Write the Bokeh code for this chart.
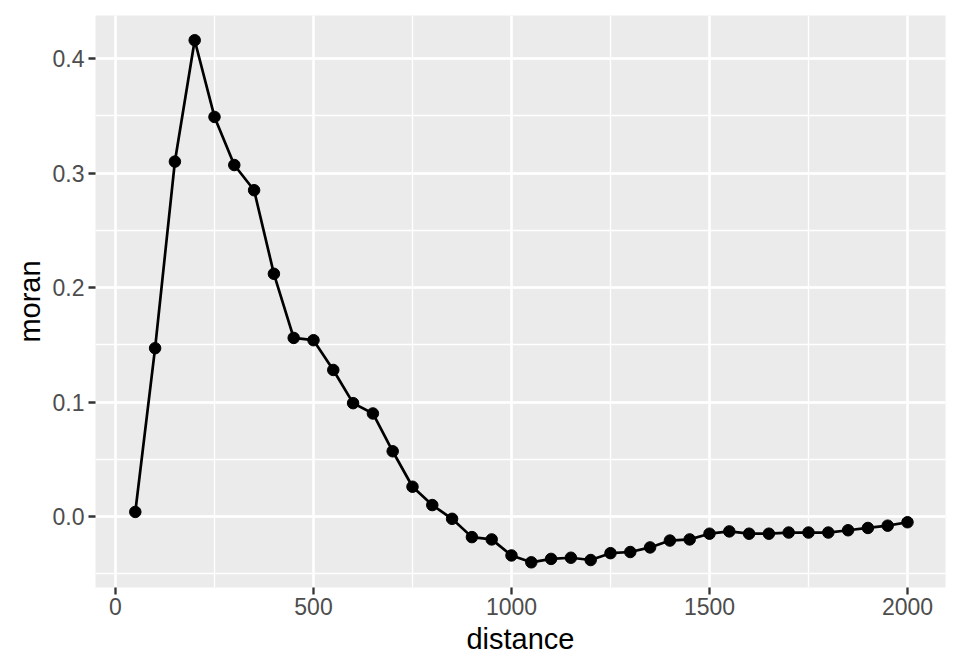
from bokeh.plotting import figure
from bokeh.models import Range1d, SingleIntervalTicker, NumeralTickFormatter, ColumnDataSource
from bokeh.embed import file_html
from bokeh.resources import INLINE

distance = [50, 100, 150, 200, 250, 300, 350, 400, 450, 500, 550, 600, 650, 700, 750,
            800, 850, 900, 950, 1000, 1050, 1100, 1150, 1200, 1250, 1300, 1350, 1400,
            1450, 1500, 1550, 1600, 1650, 1700, 1750, 1800, 1850, 1900, 1950, 2000]
moran = [0.004, 0.147, 0.310, 0.416, 0.349, 0.307, 0.285, 0.212, 0.156, 0.154, 0.128,
         0.099, 0.090, 0.057, 0.026, 0.010, -0.002, -0.018, -0.020, -0.034, -0.040,
         -0.037, -0.036, -0.038, -0.032, -0.031, -0.027, -0.021, -0.020, -0.015,
         -0.013, -0.015, -0.015, -0.014, -0.014, -0.014, -0.012, -0.010, -0.008, -0.005]

src = ColumnDataSource(data=dict(distance=distance, moran=moran))

p = figure(width=952, height=664, output_backend="svg", toolbar_location=None,
           x_range=Range1d(-50.5, 2096), y_range=Range1d(-0.062, 0.4376))
p.min_border_left = 95
p.min_border_right = 7
p.min_border_top = 15
p.min_border_bottom = 77
p.background_fill_color = "#EBEBEB"
p.border_fill_color = "white"
p.outline_line_color = None

p.xaxis.ticker = SingleIntervalTicker(interval=500, num_minor_ticks=2)
p.yaxis.ticker = SingleIntervalTicker(interval=0.1, num_minor_ticks=2)
p.xgrid.ticker = p.xaxis.ticker
p.ygrid.ticker = p.yaxis.ticker
p.yaxis.formatter = NumeralTickFormatter(format="0.0")

for g in (p.xgrid, p.ygrid):
    g.grid_line_color = "white"
    g.grid_line_width = 2.5
    g.minor_grid_line_color = "white"
    g.minor_grid_line_width = 1.3

for ax in (p.xaxis, p.yaxis):
    ax.axis_line_color = None
    ax.major_tick_line_color = "#333333"
    ax.major_tick_line_width = 2.3
    ax.major_tick_out = 7
    ax.major_tick_in = 0
    ax.minor_tick_line_color = None
    ax.major_label_text_color = "#4D4D4D"
    ax.major_label_text_font = "Liberation Sans"
    ax.major_label_text_font_size = "23px"
    ax.axis_label_text_font = "Liberation Sans"
    ax.axis_label_text_font_size = "29px"
    ax.axis_label_text_font_style = "normal"
    ax.axis_label_text_color = "black"

p.xaxis.axis_label = "distance"
p.yaxis.axis_label = "moran"
p.xaxis.major_label_standoff = 3
p.yaxis.major_label_standoff = 4
p.xaxis.axis_label_standoff = 5
p.yaxis.axis_label_standoff = 4

p.line("distance", "moran", source=src, line_color="black", line_width=2.7)
p.scatter("distance", "moran", source=src, size=11.5, fill_color="black", line_color="black")

open("out.html", "w").write(file_html(p, INLINE))
